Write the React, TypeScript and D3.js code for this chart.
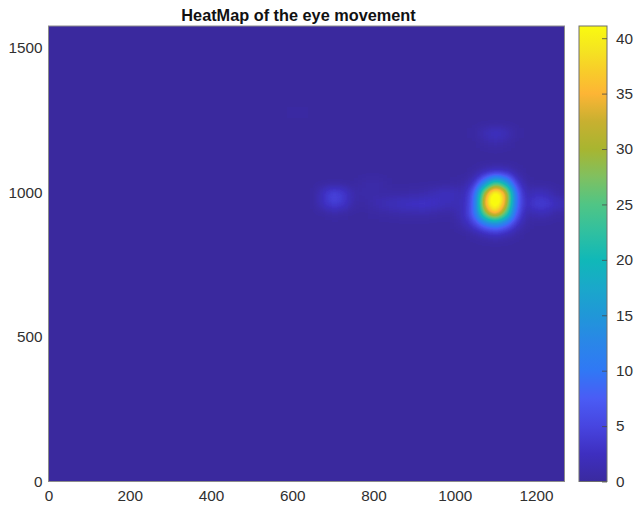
import React, { useEffect, useRef } from 'react';
import * as d3 from 'd3';

const TITLE = 'HeatMap of the eye movement';
const X_TICKS = [0, 200, 400, 600, 800, 1000, 1200];
const Y_TICKS = [0, 500, 1000, 1500];
const BAR_TICKS = [0, 5, 10, 15, 20, 25, 30, 35, 40];
const X_MAX = 1270;
const Y_MAX = 1574;
const VALUE_MAX = 41.1;
// headroom so grid cells may sit above the colorbar top before the blur flattens them
const GRAY_MAX = 50;

// colormap, value -> colour
const COLOR_STOPS = [0, 2.5, 5, 7.5, 10, 12.5, 15, 17.5, 20, 22.5, 25, 27.5, 30, 32.5, 35, 37, 39, 41.1];
const COLOR_VALUES = [
  '#3a2a9f', '#3e2fc0', '#4745e0', '#4a5cf5', '#3078f5', '#2a86e8', '#2097d8', '#1aa8ca', '#10b8b8',
  '#30c0a0', '#50c585', '#80c060', '#a8b530', '#c8b030', '#fdb535', '#f8cc2a', '#f5e520', '#fafa10',
];

// gaze density, everything outside this window is 0
const GRID_X = [600, 625, 650, 675, 700, 725, 750, 775, 800, 825, 850, 875, 900, 925, 950, 975, 1000, 1025, 1050, 1075, 1100, 1125, 1150, 1175, 1200, 1225, 1250, 1275];
const GRID_Y = [1275, 1240, 1205, 1170, 1135, 1100, 1065, 1030, 995, 960, 925, 890, 855, 820];
const GRID_VALUES = [
  [0.2, 0.2, 0, 0, 0, 0, 0, 0, 0, 0, 0, 0, 0, 0, 0, 0, 0, 0, 0, 0, 0, 0, 0, 0, 0, 0, 0, 0],
  [0, 0, 0, 0, 0, 0, 0, 0, 0, 0, 0, 0, 0, 0, 0, 0, 0, 0, 0, 0, 0, 0, 0, 0, 0, 0, 0, 0],
  [0, 0, 0, 0, 0, 0, 0, 0, 0, 0, 0, 0, 0, 0, 0, 0, 0, 0, 0.3, 1.8, 3, 2, 0.4, 0, 0, 0, 0, 0],
  [0, 0, 0, 0, 0, 0, 0, 0, 0, 0, 0, 0, 0, 0, 0, 0, 0, 0, 0, 0.5, 1, 0.6, 0, 0, 0, 0, 0, 0],
  [0, 0, 0, 0, 0, 0, 0, 0, 0, 0, 0, 0, 0, 0, 0, 0, 0, 0, 0, 0, 0, 0, 0, 0, 0, 0, 0, 0],
  [0, 0, 0, 0, 0, 0, 0, 0, 0, 0, 0, 0, 0, 0, 0, 0, 0, 0, 0, 0, 0, 0, 0, 0, 0, 0, 0, 0],
  [0, 0, 0, 0, 0, 0, 0, 0, 0, 0, 0, 0, 0, 0, 0, 0, 0, 0, 0.4, 2.2, 3.5, 3, 0.8, 0, 0, 0, 0, 0],
  [0, 0, 0, 0, 0, 0, 0, 0.6, 0.9, 0.4, 0, 0, 0, 0, 0, 0, 0.2, 0.5, 3, 13, 25, 17, 4, 0.4, 0, 0, 0, 0],
  [0, 0, 0, 2.5, 5, 4, 1, 0.7, 0.7, 0.5, 0.5, 0.6, 0.8, 1, 1.8, 2.5, 2, 1.5, 8, 33, 45, 35, 9, 1.2, 2.4, 2, 0.5, 0.2],
  [0, 0, 0, 2.3, 4.6, 3.6, 0.8, 0.2, 1.2, 1.8, 2.4, 2.8, 3.2, 3.4, 3, 2, 1.8, 2, 9, 37, 45, 34, 9, 2, 4.4, 4.4, 2.4, 2.2],
  [0, 0, 0, 0, 0.4, 0.2, 0, 0, 0.2, 0.4, 0.6, 0.7, 0.8, 0.8, 0.5, 0.2, 0.7, 2.5, 9, 28, 37, 25, 7, 0.8, 1.5, 1.3, 0.3, 0.2],
  [0, 0, 0, 0, 0, 0, 0, 0, 0, 0, 0, 0, 0, 0, 0, 0, 0.2, 1.5, 4.5, 10, 13, 9, 3, 0.3, 0, 0, 0, 0],
  [0, 0, 0, 0, 0, 0, 0, 0, 0, 0, 0, 0, 0, 0, 0, 0, 0, 0, 0.6, 1.5, 2.5, 1.5, 0.3, 0, 0, 0, 0, 0],
  [0, 0, 0, 0, 0, 0, 0, 0, 0, 0, 0, 0, 0, 0, 0, 0, 0, 0, 0, 0, 0, 0, 0, 0, 0, 0, 0, 0],
];

const WIDTH = 641;
const HEIGHT = 510;
const plot = { left: 48.5, right: 564.5, top: 26, bottom: 481.5 };
const bar = { left: 579, right: 607 };
const FONT = '"Liberation Sans", Arial, sans-serif';
const TEXT_COLOR = '#303030';
const BOX_COLOR = '#8c8c8c';

export default function App() {
  const svgRef = useRef<SVGSVGElement>(null);

  useEffect(() => {
    if (!svgRef.current) return;
    const svg = d3.select(svgRef.current);
    svg.selectAll('*').remove();

    const x = d3.scaleLinear().domain([0, X_MAX]).range([plot.left, plot.right]);
    const y = d3.scaleLinear().domain([0, Y_MAX]).range([plot.bottom, plot.top]);
    const v = d3.scaleLinear().domain([0, VALUE_MAX]).range([plot.bottom, plot.top]);
    const color = d3.scaleLinear<string>().domain(COLOR_STOPS).range(COLOR_VALUES).clamp(true);

    // 256 step table so the blurred gray levels can be recoloured after the blur
    const table = d3.range(256).map((i) => d3.rgb(color((i / 255) * GRAY_MAX)));
    const defs = svg.append('defs');
    const filter = defs
      .append('filter')
      .attr('id', 'heat')
      .attr('filterUnits', 'userSpaceOnUse')
      .attr('x', 0)
      .attr('y', 0)
      .attr('width', WIDTH)
      .attr('height', HEIGHT)
      .attr('color-interpolation-filters', 'sRGB');
    filter.append('feGaussianBlur').attr('stdDeviation', 5);
    const transfer = filter.append('feComponentTransfer');
    transfer.append('feFuncR').attr('type', 'table').attr('tableValues', table.map((c) => (c.r / 255).toFixed(4)).join(' '));
    transfer.append('feFuncG').attr('type', 'table').attr('tableValues', table.map((c) => (c.g / 255).toFixed(4)).join(' '));
    transfer.append('feFuncB').attr('type', 'table').attr('tableValues', table.map((c) => (c.b / 255).toFixed(4)).join(' '));

    defs
      .append('clipPath')
      .attr('id', 'plot-clip')
      .append('rect')
      .attr('x', plot.left)
      .attr('y', plot.top)
      .attr('width', plot.right - plot.left)
      .attr('height', plot.bottom - plot.top);

    const gray = (value: number) => {
      const level = Math.round((Math.min(value, GRAY_MAX) / GRAY_MAX) * 255);
      return `rgb(${level},${level},${level})`;
    };

    // Heatmap
    const clipped = svg.append('g').attr('clip-path', 'url(#plot-clip)');
    const heat = clipped.append('g').attr('filter', 'url(#heat)');
    heat.append('rect').attr('width', WIDTH).attr('height', HEIGHT).attr('fill', gray(0));
    const stepX = GRID_X[1] - GRID_X[0];
    const stepY = GRID_Y[0] - GRID_Y[1];
    GRID_Y.forEach((gy, row) => {
      GRID_X.forEach((gx, col) => {
        const value = GRID_VALUES[row][col];
        if (value <= 0) return;
        heat
          .append('rect')
          .attr('x', x(gx - stepX / 2))
          .attr('y', y(gy + stepY / 2))
          .attr('width', x(gx + stepX / 2) - x(gx - stepX / 2))
          .attr('height', y(gy - stepY / 2) - y(gy + stepY / 2))
          .attr('fill', gray(value))
          .attr('shape-rendering', 'crispEdges');
      });
    });

    svg
      .append('rect')
      .attr('x', plot.left)
      .attr('y', plot.top)
      .attr('width', plot.right - plot.left)
      .attr('height', plot.bottom - plot.top)
      .attr('fill', 'none')
      .attr('stroke', BOX_COLOR)
      .attr('stroke-width', 1);

    // Colorbar
    const gradient = defs
      .append('linearGradient')
      .attr('id', 'bar-gradient')
      .attr('x1', 0)
      .attr('x2', 0)
      .attr('y1', 1)
      .attr('y2', 0);
    COLOR_STOPS.forEach((stop, i) => {
      gradient
        .append('stop')
        .attr('offset', stop / VALUE_MAX)
        .attr('stop-color', COLOR_VALUES[i]);
    });
    svg
      .append('rect')
      .attr('x', bar.left)
      .attr('y', plot.top)
      .attr('width', bar.right - bar.left)
      .attr('height', plot.bottom - plot.top)
      .attr('fill', 'url(#bar-gradient)')
      .attr('stroke', '#6e6e6e')
      .attr('stroke-width', 1);

    // Axes
    const styleAxis = (g: d3.Selection<SVGGElement, unknown, null, undefined>) => {
      g.select('.domain').remove();
      g.selectAll('text')
        .attr('font-family', FONT)
        .attr('font-size', 15.3)
        .attr('fill', TEXT_COLOR);
    };
    svg
      .append('g')
      .attr('transform', `translate(0,${plot.bottom})`)
      .call(d3.axisBottom(x).tickValues(X_TICKS).tickFormat(d3.format('d')).tickSize(0).tickPadding(9))
      .call(styleAxis);
    svg
      .append('g')
      .attr('transform', `translate(${plot.left},0)`)
      .call(d3.axisLeft(y).tickValues(Y_TICKS).tickFormat(d3.format('d')).tickSize(0).tickPadding(6))
      .call(styleAxis);
    const barAxis = svg
      .append('g')
      .attr('transform', `translate(${bar.right},0)`)
      .call(d3.axisRight(v).tickValues(BAR_TICKS).tickSize(-5).tickPadding(9))
      .call(styleAxis);
    barAxis.selectAll('line').attr('stroke', '#4a4a4a').attr('stroke-width', 0.8);

    svg
      .append('text')
      .attr('x', 298.5)
      .attr('y', 21)
      .attr('text-anchor', 'middle')
      .attr('font-family', FONT)
      .attr('font-size', 16.3)
      .attr('font-weight', 'bold')
      .attr('fill', '#111111')
      .text(TITLE);
  }, []);

  return (
    <svg
      ref={svgRef}
      width={WIDTH}
      height={HEIGHT}
      style={{ position: 'absolute', left: 0, top: 0, background: '#ffffff' }}
    />
  );
}
